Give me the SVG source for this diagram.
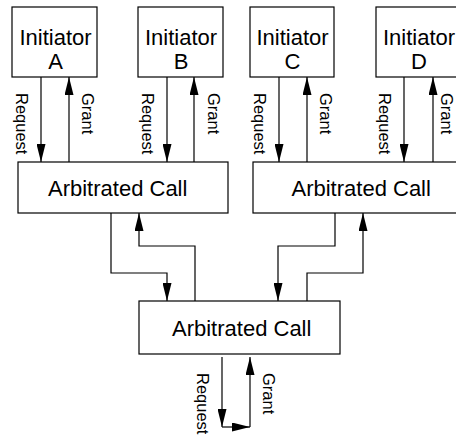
<svg xmlns="http://www.w3.org/2000/svg" width="456" height="436" viewBox="0 0 456 436">
  <style>
    .box { fill: #fff; stroke: #000; stroke-width: 1.2; }
    .name { font-family: "Liberation Sans", Arial, sans-serif; font-size: 22px; fill: #000; }
    .lbl { font-family: "Liberation Sans", Arial, sans-serif; font-size: 16.5px; fill: #000; }
    .wire { fill: none; stroke: #000; stroke-width: 1.2; marker-end: url(#arr); }
  </style>
  <defs>
    <marker id="arr" markerWidth="18" markerHeight="9" refX="18" refY="4.5" orient="auto" markerUnits="userSpaceOnUse">
      <path d="M0,0 L18,4.5 L0,9 z" fill="#000"/>
    </marker>
  </defs>
  <rect width="456" height="436" fill="#fff"/>

  <!-- initiators -->
  <g id="initiator-a">
    <rect class="box" x="12" y="7" width="85" height="70"/>
    <text class="name" x="55.5" y="45" text-anchor="middle">Initiator</text>
    <text class="name" x="55.5" y="68.5" text-anchor="middle">A</text>
  </g>
  <g id="initiator-b">
    <rect class="box" x="138" y="7" width="85" height="70"/>
    <text class="name" x="181" y="45" text-anchor="middle">Initiator</text>
    <text class="name" x="181" y="68.5" text-anchor="middle">B</text>
  </g>
  <g id="initiator-c">
    <rect class="box" x="250" y="7" width="84" height="70"/>
    <text class="name" x="292.5" y="45" text-anchor="middle">Initiator</text>
    <text class="name" x="292.5" y="68.5" text-anchor="middle">C</text>
  </g>
  <g id="initiator-d">
    <rect class="box" x="376" y="7" width="85" height="70"/>
    <text class="name" x="419" y="45" text-anchor="middle">Initiator</text>
    <text class="name" x="419" y="68.5" text-anchor="middle">D</text>
  </g>

  <!-- arbiters -->
  <g id="arbiter-left">
    <rect class="box" x="18" y="162" width="210" height="51"/>
    <text class="name" x="48" y="196">Arbitrated Call</text>
  </g>
  <g id="arbiter-right">
    <rect class="box" x="253" y="162" width="210" height="51"/>
    <text class="name" x="291.5" y="196">Arbitrated Call</text>
  </g>
  <g id="arbiter-root">
    <rect class="box" x="139" y="301" width="201" height="53"/>
    <text class="name" x="172" y="336">Arbitrated Call</text>
  </g>

  <!-- request / grant connectors -->
  <g id="connectors">
    <path class="wire" d="M41,77 V162"/>
    <path class="wire" d="M69,162 V77"/>
    <path class="wire" d="M167,77 V162"/>
    <path class="wire" d="M194,162 V77"/>
    <path class="wire" d="M279,77 V162"/>
    <path class="wire" d="M307,162 V77"/>
    <path class="wire" d="M404,77 V162"/>
    <path class="wire" d="M433,162 V77"/>

    <path class="wire" d="M111,213 V273 H167 V301"/>
    <path class="wire" d="M195,301 V246 H139 V213"/>
    <path class="wire" d="M335,213 V246 H278 V301"/>
    <path class="wire" d="M307,301 V273 H363 V213"/>

    <path class="wire" d="M222,357 V427"/>
    <path class="wire" d="M222,427 H250"/>
    <path class="wire" d="M250,427 V357"/>

    <text class="lbl" transform="translate(16,93) rotate(90)">Request</text>
    <text class="lbl" transform="translate(82,93) rotate(90)">Grant</text>
    <text class="lbl" transform="translate(142,93) rotate(90)">Request</text>
    <text class="lbl" transform="translate(207.5,93) rotate(90)">Grant</text>
    <text class="lbl" transform="translate(254,93) rotate(90)">Request</text>
    <text class="lbl" transform="translate(320,93) rotate(90)">Grant</text>
    <text class="lbl" transform="translate(379,93) rotate(90)">Request</text>
    <text class="lbl" transform="translate(440.5,93) rotate(90)">Grant</text>
    <text class="lbl" transform="translate(197,373) rotate(90)">Request</text>
    <text class="lbl" transform="translate(263,373) rotate(90)">Grant</text>
  </g>
</svg>
